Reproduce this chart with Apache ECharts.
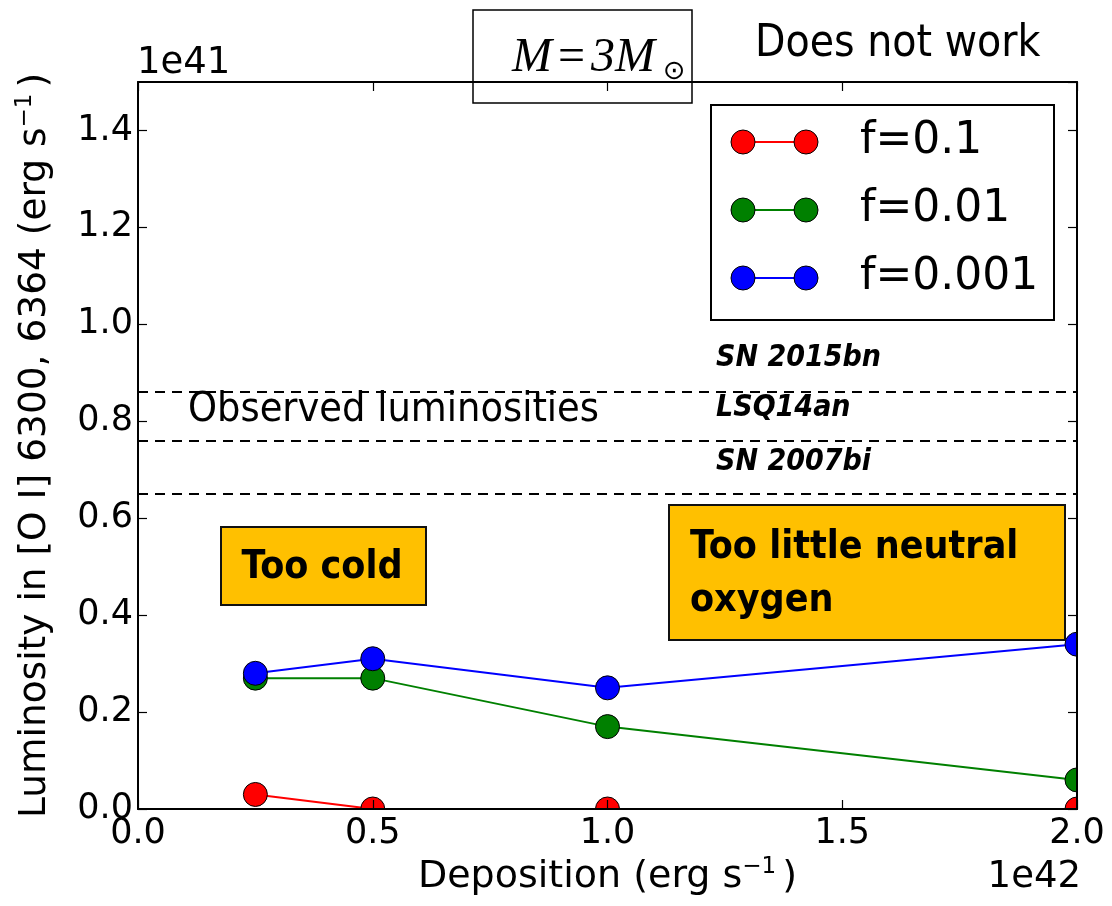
<!DOCTYPE html>
<html>
<head>
<meta charset="utf-8">
<script src="https://cdn.jsdelivr.net/npm/echarts@6/dist/echarts.min.js"></script>
<style>
  html, body { margin: 0; padding: 0; background: #ffffff; }
  #chart { width: 1112px; height: 906px; }
</style>
</head>
<body>
<div id="chart"></div>
<script>
// Deposition in units of 1e42 erg/s, luminosity in units of 1e41 erg/s
const deposition = [0.25, 0.5, 1.0, 2.0];
const seriesNames = ['f=0.1', 'f=0.01', 'f=0.001'];
const lumF1 = [0.03, 0.0, 0.0, 0.0];
const lumF01 = [0.27, 0.27, 0.17, 0.06];
const lumF001 = [0.28, 0.31, 0.25, 0.34];
const seriesColors = ['#ff0000', '#008000', '#0000ff'];
const observedNames = ['SN 2015bn', 'LSQ14an', 'SN 2007bi'];
const observedLum = [0.865, 0.76, 0.65];

const GRID = { left: 138, top: 82, width: 939, height: 727 };
const tickFont = 'DejaVu Sans';
const narrowFont = '"Liberation Sans Narrow", "DejaVu Sans Condensed", "Open Sans", sans-serif';

const chart = echarts.init(document.getElementById('chart'), null, { renderer: 'canvas' });

const lumSeries = [lumF1, lumF01, lumF001];

function axisCommon(showLabel, pos, margin) {
  return {
    position: pos,
    z: 10,
    axisLine: { show: true, onZero: false, lineStyle: { color: '#000', width: 2 } },
    axisTick: { show: true, inside: true, length: 9, lineStyle: { color: '#000', width: 1.2 } },
    splitLine: { show: false },
    axisLabel: {
      show: showLabel,
      color: '#000',
      fontFamily: tickFont,
      fontSize: 35,
      margin: margin,
      showMaxLabel: pos === 'left' ? false : true,
      formatter: v => v.toFixed(1)
    }
  };
}

const supStyle = { fontSize: 23, fontFamily: tickFont, color: '#000', padding: [0, 6, 20, 0] };

const option = {
  backgroundColor: '#ffffff',
  animation: false,
  grid: {
    left: GRID.left, top: GRID.top, width: GRID.width, height: GRID.height,
    containLabel: false, outerBoundsMode: 'none'
  },
  xAxis: [
    Object.assign(axisCommon(true, 'bottom', 7), {
      type: 'value', min: 0, max: 2, interval: 0.5,
      name: 'Deposition (erg s{sup|\u22121})',
      nameLocation: 'middle', nameGap: 34,
      nameTextStyle: { color: '#000', fontFamily: tickFont, fontSize: 38, rich: { sup: supStyle } }
    }),
    Object.assign(axisCommon(false, 'top', 8), { type: 'value', min: 0, max: 2, interval: 0.5 })
  ],
  yAxis: [
    Object.assign(axisCommon(true, 'left', 5), {
      type: 'value', min: 0, max: 1.5, interval: 0.2,
      name: 'Luminosity in [O I] 6300, 6364 (erg s{sup|\u22121})',
      nameLocation: 'middle', nameRotate: 90, nameGap: 81,
      nameTextStyle: { color: '#000', fontFamily: tickFont, fontSize: 37.5, rich: { sup: supStyle } }
    }),
    Object.assign(axisCommon(false, 'right', 8), { type: 'value', min: 0, max: 1.5, interval: 0.2 })
  ],
  series: seriesNames.map((name, i) => ({
    name: name,
    type: 'line',
    xAxisIndex: 0,
    yAxisIndex: 0,
    z: 2,
    data: deposition.map((x, j) => [x, lumSeries[i][j]]),
    symbol: 'circle',
    symbolSize: 24,
    lineStyle: { color: seriesColors[i], width: 2 },
    itemStyle: { color: seriesColors[i], borderColor: '#000', borderWidth: 1 },
    markLine: i === 0 ? {
      silent: true,
      symbol: ['none', 'none'],
      label: { show: false },
      lineStyle: { color: '#000', width: 2, type: [10, 7] },
      data: observedLum.map((v, k) => ({ name: observedNames[k], yAxis: v }))
    } : undefined
  }))
};

chart.setOption(option);

// Annotations placed after the axes are laid out
const right = GRID.left + GRID.width;
const bottom = GRID.top + GRID.height;
const graphics = [];

// mask marks that poke outside the frame, like a clipped axes area
graphics.push({ type: 'rect', z: 5, silent: true,
  shape: { x: 90, y: bottom + 1, width: 1022, height: 12 }, style: { fill: '#fff' } });
graphics.push({ type: 'rect', z: 5, silent: true,
  shape: { x: right + 1, y: GRID.top - 2, width: 1112 - right, height: GRID.height + 16 }, style: { fill: '#fff' } });

// offset text of the axes
graphics.push({ type: 'text', z: 20, x: 137, y: 63,
  style: { text: '1e41', font: '37px "DejaVu Sans"', fill: '#000', textVerticalAlign: 'middle' } });
graphics.push({ type: 'text', z: 20, x: 1081, y: 877,
  style: { text: '1e42', font: '37px "DejaVu Sans"', fill: '#000', textAlign: 'right', textVerticalAlign: 'middle' } });

// observed reference lines labels
observedLum.forEach((v, k) => {
  const py = chart.convertToPixel({ yAxisIndex: 0 }, v);
  graphics.push({ type: 'text', z: 20, x: 716, y: py - 32,
    style: { text: observedNames[k], font: 'italic bold 30px ' + narrowFont, fill: '#000',
      textVerticalAlign: 'middle' } });
});
graphics.push({ type: 'text', z: 20, x: 188, y: 410,
  style: { text: 'Observed luminosities', font: '41px ' + narrowFont, fill: '#000', textVerticalAlign: 'middle' } });

// shaded callout boxes
graphics.push({ type: 'rect', z: 20, shape: { x: 221, y: 527, width: 205, height: 78 },
  style: { fill: '#ffc000', stroke: '#111', lineWidth: 2 } });
graphics.push({ type: 'text', z: 21, x: 322, y: 568,
  style: { text: 'Too cold', font: 'bold 39px ' + narrowFont, fill: '#000',
    textAlign: 'center', textVerticalAlign: 'middle' } });
graphics.push({ type: 'rect', z: 20, shape: { x: 669, y: 505, width: 396, height: 135 },
  style: { fill: '#ffc000', stroke: '#111', lineWidth: 2 } });
graphics.push({ type: 'text', z: 21, x: 690, y: 548,
  style: { text: 'Too little neutral', font: 'bold 39px ' + narrowFont, fill: '#000', textVerticalAlign: 'middle' } });
graphics.push({ type: 'text', z: 21, x: 690, y: 601,
  style: { text: 'oxygen', font: 'bold 39px ' + narrowFont, fill: '#000', textVerticalAlign: 'middle' } });

// mass box and verdict
graphics.push({ type: 'rect', z: 20, shape: { x: 473, y: 10, width: 219, height: 93 },
  style: { fill: 'none', stroke: '#000', lineWidth: 1.5 } });
graphics.push({ type: 'text', z: 21, x: 512, y: 58,
  style: {
    text: '{m|M}{eq|=}{m|3M}{sun|\u2299}',
    textVerticalAlign: 'middle',
    rich: {
      m: { font: 'italic 48px "Liberation Serif", "DejaVu Serif", serif', fill: '#000' },
      eq: { font: '48px "Liberation Serif", serif', fill: '#000', padding: [0, 6, 0, 6] },
      sun: { font: '27px "DejaVu Sans", sans-serif', fill: '#000', padding: [28, 0, 0, 8] }
    }
  } });
graphics.push({ type: 'text', z: 21, x: 755, y: 45,
  style: { text: 'Does not work', font: '44px ' + narrowFont, fill: '#000', textVerticalAlign: 'middle' } });

// legend
const lg = { x: 711, y: 105, w: 343, h: 215 };
graphics.push({ type: 'rect', z: 20, shape: { x: lg.x, y: lg.y, width: lg.w, height: lg.h },
  style: { fill: '#fff', stroke: '#000', lineWidth: 2 } });
const legendRows = [142, 210, 278];
seriesNames.forEach((name, i) => {
  const cy = legendRows[i];
  graphics.push({ type: 'line', z: 21, shape: { x1: 743, y1: cy, x2: 806, y2: cy },
    style: { stroke: seriesColors[i], lineWidth: 2 } });
  [743, 806].forEach(cx => graphics.push({ type: 'circle', z: 22, shape: { cx: cx, cy: cy, r: 12 },
    style: { fill: seriesColors[i], stroke: '#000', lineWidth: 1 } }));
  graphics.push({ type: 'text', z: 22, x: 860, y: cy,
    style: { text: name, font: '44px "DejaVu Sans"', fill: '#000', textVerticalAlign: 'middle' } });
});

chart.setOption({ graphic: graphics });
</script>
</body>
</html>
